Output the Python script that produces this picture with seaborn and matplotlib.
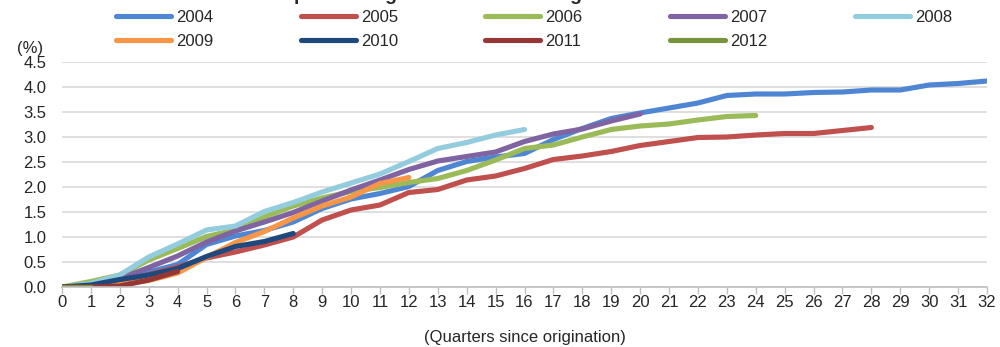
import numpy as np
import pandas as pd
import matplotlib
matplotlib.use("Agg")
import matplotlib.pyplot as plt
import seaborn as sns

# Cumulative ratio (%) by quarters since origination, one series per vintage year
vintages = ["2004", "2005", "2006", "2007", "2008", "2009", "2010", "2011", "2012"]

v2004 = [0.0, 0.02, 0.15, 0.30, 0.45, 0.85, 1.02, 1.13, 1.30, 1.57, 1.76, 1.87, 2.01,
         2.33, 2.51, 2.60, 2.67, 2.95, 3.17, 3.37, 3.48, 3.58, 3.68, 3.83, 3.86, 3.86,
         3.89, 3.90, 3.94, 3.94, 4.04, 4.07, 4.12]
v2005 = [0.0, 0.02, 0.10, 0.25, 0.40, 0.58, 0.70, 0.84, 1.00, 1.34, 1.54, 1.64, 1.89,
         1.95, 2.14, 2.22, 2.37, 2.55, 2.62, 2.71, 2.83, 2.91, 2.99, 3.00, 3.04, 3.07,
         3.07, 3.13, 3.19]
v2006 = [0.0, 0.11, 0.24, 0.54, 0.77, 1.01, 1.14, 1.40, 1.62, 1.78, 1.91, 1.99, 2.09,
         2.17, 2.33, 2.54, 2.77, 2.84, 3.00, 3.15, 3.22, 3.26, 3.34, 3.41, 3.43]
v2007 = [0.0, 0.03, 0.17, 0.39, 0.62, 0.90, 1.12, 1.30, 1.49, 1.72, 1.94, 2.14, 2.35,
         2.52, 2.61, 2.70, 2.91, 3.06, 3.16, 3.32, 3.46]
v2008 = [0.0, 0.07, 0.24, 0.60, 0.86, 1.14, 1.22, 1.51, 1.69, 1.90, 2.08, 2.26, 2.51,
         2.77, 2.89, 3.04, 3.15]
v2009 = [0.0, 0.0, 0.05, 0.13, 0.28, 0.59, 0.89, 1.11, 1.38, 1.62, 1.80, 2.07, 2.19]
v2010 = [0.0, 0.04, 0.15, 0.24, 0.37, 0.61, 0.81, 0.91, 1.07]
v2011 = [0.0, 0.0, 0.02, 0.14, 0.31]
v2012 = [0.0, 0.0]

series = [v2004, v2005, v2006, v2007, v2008, v2009, v2010, v2011, v2012]

colors = ["#4F86D4", "#C0504D", "#9BBB59", "#8064A2", "#93CDDD",
          "#F79646", "#1F497D", "#953735", "#77933C"]

frames = []
for year, vals in zip(vintages, series):
    frames.append(pd.DataFrame({"quarter": np.arange(len(vals)),
                                "ratio": vals,
                                "vintage": year}))
df = pd.concat(frames, ignore_index=True)

sns.set_theme(style="white")
plt.rcParams["font.family"] = ["Liberation Sans", "DejaVu Sans"]

fig = plt.figure(figsize=(10, 3.47), dpi=100)
ax = fig.add_axes([0.062, 1 - 287 / 347, 0.925, 225 / 347])

sns.lineplot(data=df, x="quarter", y="ratio", hue="vintage", hue_order=vintages,
             palette=dict(zip(vintages, colors)), linewidth=3.7, ax=ax,
             legend=False, solid_capstyle="round", sort=False)

ax.set_xlim(0, 32)
ax.set_ylim(0, 4.5)
ax.set_xticks(range(0, 33))
ax.set_yticks(np.arange(0, 4.51, 0.5))
ax.set_yticklabels([f"{v:.1f}" for v in np.arange(0, 4.51, 0.5)])
ax.yaxis.grid(True, color="#D9D9D9", linewidth=1.2)
ax.set_axisbelow(True)
for side in ["left", "right", "top"]:
    ax.spines[side].set_visible(False)
ax.spines["bottom"].set_color("#BFBFBF")
ax.spines["bottom"].set_linewidth(1.2)
ax.tick_params(axis="x", direction="out", length=5, width=1, color="#BFBFBF",
               labelsize=12, pad=1, bottom=True)
ax.tick_params(axis="y", length=0, labelsize=12, pad=11)
ax.set_xlabel("(Quarters since origination)", fontsize=12, labelpad=14)
ax.set_ylabel("")

fig.text(0.017, 1 - 48 / 347, "(%)", fontsize=12, va="center", ha="left")

# Chart title sits at the very top edge of the canvas
fig.text(0.139, 1.0, "Cumulative Non-performing Loans Ratio at Origination",
         fontsize=14, fontweight="bold", ha="left", va="baseline")

# Legend laid out row by row: matplotlib fills columns first, so interleave
order = [0, 5, 1, 6, 2, 7, 3, 8, 4]
handles = [plt.Line2D([0], [0], color=colors[i], linewidth=3.7, solid_capstyle="round")
           for i in order]
labels = [vintages[i] for i in order]
fig.legend(handles, labels, loc="upper left", bbox_to_anchor=(0.116, 0.972),
           ncol=5, frameon=False, fontsize=12, handlelength=3.3,
           handletextpad=0.3, columnspacing=5.25, labelspacing=0.55, borderpad=0,
           borderaxespad=0)

fig.savefig("out.png", dpi=100)
